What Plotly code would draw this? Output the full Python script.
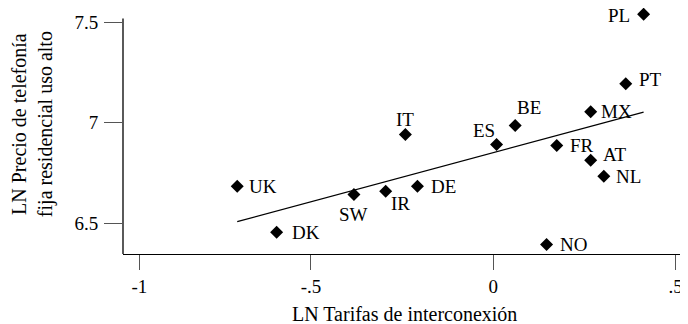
import numpy as np
import plotly.graph_objects as go

# ---- data ----
countries = ["UK", "DK", "SW", "IR", "DE", "IT", "PL", "PT", "MX", "BE", "ES", "FR", "AT", "NL", "NO"]
ln_tarifas = [-0.702, -0.594, -0.382, -0.295, -0.208, -0.241, 0.412, 0.363, 0.267, 0.060, 0.009, 0.174, 0.267, 0.303, 0.146]
ln_precio = [6.683, 6.454, 6.642, 6.658, 6.683, 6.940, 7.539, 7.193, 7.053, 6.985, 6.891, 6.886, 6.812, 6.733, 6.393]

x_tickvals = [-0.97, -0.5, 0, 0.5]
x_ticktext = ["-1", "-.5", "0", ".5"]
y_tickvals = [6.5, 7, 7.5]
y_ticktext = ["6.5", "7", "7.5"]

# ---- label placement (style only): (xanchor, yanchor, xshift, yshift) ----
label_style = {
    "UK": ("left", "middle", 10, 0),
    "DK": ("left", "middle", 13, 0),
    "SW": ("center", "middle", 0, -20),
    "IR": ("left", "middle", 3, -12),
    "DE": ("left", "middle", 12, 0),
    "IT": ("center", "middle", 0, 15),
    "PL": ("right", "middle", -12, -1),
    "PT": ("left", "middle", 11, 4),
    "MX": ("left", "middle", 8, 0),
    "BE": ("center", "middle", 14, 18),
    "ES": ("center", "middle", -13, 14),
    "FR": ("left", "middle", 11, 0),
    "AT": ("left", "middle", 10, 6),
    "NL": ("left", "middle", 10, 0),
    "NO": ("left", "middle", 11, 0),
}

FONT = "Liberation Serif"
LABEL_SIZE = 19
TITLE_SIZE = 20
Y_RANGE = [6.3458, 7.5498]
Y_AXIS_TOP = 7.518

# linear fit over the data
slope, intercept = np.polyfit(ln_tarifas, ln_precio, 1)
fx = np.array([min(ln_tarifas), max(ln_tarifas)])
fy = slope * fx + intercept

fig = go.Figure()
fig.add_trace(go.Scatter(
    x=fx, y=fy, mode="lines",
    line=dict(color="black", width=1.3),
    hoverinfo="skip", showlegend=False, cliponaxis=False,
))
fig.add_trace(go.Scatter(
    x=ln_tarifas, y=ln_precio, mode="markers",
    marker=dict(symbol="diamond", size=10, color="black", line=dict(width=0)),
    text=countries, showlegend=False, cliponaxis=False,
))

annotations = []
for c, xv, yv in zip(countries, ln_tarifas, ln_precio):
    xa, ya, xs, ys = label_style[c]
    annotations.append(dict(
        x=xv, y=yv, xref="x", yref="y", text=c, showarrow=False,
        xanchor=xa, yanchor=ya, xshift=xs, yshift=ys,
        font=dict(family=FONT, size=LABEL_SIZE, color="black"),
    ))

annotations.append(dict(
    text="LN Tarifas de interconexión", xref="paper", yref="paper",
    x=0.499, y=-0.248, xanchor="center", yanchor="middle", showarrow=False,
    font=dict(family=FONT, size=TITLE_SIZE, color="black"),
))
annotations.append(dict(
    text="LN Precio de telefonía<br>fija residencial uso alto", xref="paper", yref="paper",
    x=-0.160, y=0.535, xanchor="center", yanchor="middle", showarrow=False,
    textangle=-90,
    font=dict(family=FONT, size=TITLE_SIZE, color="black"),
))

# y axis line (stops a little below the top of the plot area)
shapes = [dict(type="line", xref="paper", yref="y", x0=0, x1=0,
               y0=Y_RANGE[0], y1=Y_AXIS_TOP, line=dict(color="black", width=1.3))]

fig.update_layout(
    width=680, height=316,
    margin=dict(l=115, r=0, t=4, b=70),
    paper_bgcolor="white", plot_bgcolor="white",
    annotations=annotations, shapes=shapes,
    font=dict(family=FONT, size=LABEL_SIZE, color="black"),
)
fig.update_xaxes(
    range=[-1.0151, 0.5337],
    tickvals=x_tickvals, ticktext=x_ticktext,
    showgrid=False, zeroline=False,
    showline=True, linecolor="black", linewidth=1.3,
    ticks="outside", ticklen=15, tickcolor="#555555", tickwidth=1.2,
    tickfont=dict(family=FONT, size=LABEL_SIZE, color="black"),
)
fig.update_yaxes(
    range=Y_RANGE,
    tickvals=y_tickvals, ticktext=y_ticktext,
    showgrid=False, zeroline=False, showline=False,
    ticks="outside", ticklen=18, tickcolor="#555555", tickwidth=1.2,
    ticklabelstandoff=2,
    tickfont=dict(family=FONT, size=LABEL_SIZE, color="black"),
)

fig.write_html("out.html")
